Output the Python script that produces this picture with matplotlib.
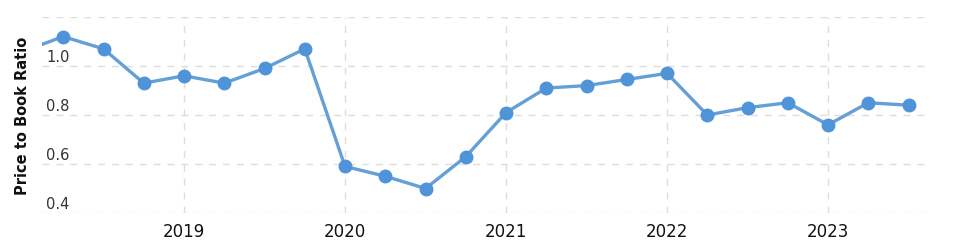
import numpy as np
import matplotlib.pyplot as plt
from matplotlib.transforms import ScaledTranslation

# quarterly price to book ratio (decimal year, value)
quarters = [2018.0, 2018.25, 2018.5, 2018.75,
            2019.0, 2019.25, 2019.5, 2019.75,
            2020.0, 2020.25, 2020.5, 2020.75,
            2021.0, 2021.25, 2021.5, 2021.75,
            2022.0, 2022.25, 2022.5, 2022.75,
            2023.0, 2023.25, 2023.5]
ratio = [1.06, 1.12, 1.07, 0.93,
         0.96, 0.93, 0.99, 1.07,
         0.59, 0.55, 0.50, 0.63,
         0.81, 0.91, 0.92, 0.945,
         0.97, 0.80, 0.83, 0.85,
         0.76, 0.85, 0.84]
year_ticks = [2019, 2020, 2021, 2022, 2023]
y_ticks = [0.4, 0.6, 0.8, 1.0, 1.2]
y_labels = ['0.4', '0.6', '0.8', '1.0', '']

fig = plt.figure(figsize=(9.56, 2.46), dpi=100)
ax = fig.add_axes([42/956, 33/246, 883/956, 196/246])

ax.plot(quarters, ratio, color='#64a0d6', linewidth=2.4, zorder=3,
        marker='o', markersize=9, markerfacecolor='#4f93d8',
        markeredgecolor='#4f93d8')

ax.set_xlim(2018.118, 2023.602)
ax.set_ylim(0.4, 1.2)

ax.set_xticks(year_ticks)
ax.set_xticklabels([str(y) for y in year_ticks], fontsize=12, color='#111111')
ax.set_yticks(y_ticks)
ax.set_yticklabels(y_labels, fontsize=10.5, color='#333333')
ax.tick_params(axis='both', length=0)
ax.tick_params(axis='x', pad=7)

# y labels sit inside the plot, just above their grid line
off = ScaledTranslation(9/100, 1/100, fig.dpi_scale_trans)
for lab in ax.get_yticklabels():
    lab.set_ha('left')
    lab.set_va('bottom')
    lab.set_transform(lab.get_transform() + off)

ax.grid(True, color='#dddddd', linestyle=(0, (5, 5)), linewidth=1)
for s in ax.spines.values():
    s.set_visible(False)

fig.text(23/956, 1 - 116/246, 'Price to Book Ratio', rotation=90, ha='center',
         va='center', fontsize=10.5, fontweight='bold', color='#111111')

fig.savefig('out.png', dpi=100)
